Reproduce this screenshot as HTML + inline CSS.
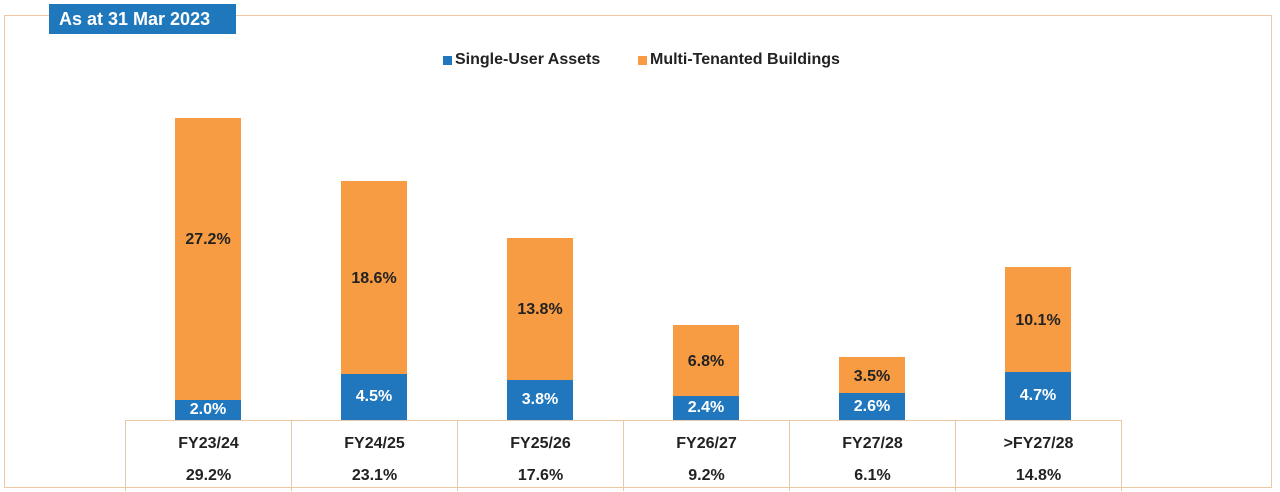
<!DOCTYPE html>
<html><head><style>
body{margin:0;width:1280px;height:492px;background:#fff;position:relative;overflow:hidden;font-family:"Liberation Sans",Arial,sans-serif}
.frame{position:absolute;left:4px;top:15px;width:1268px;height:473px;border:1.5px solid #f0c9a4;box-sizing:border-box}
.title{position:absolute;left:49px;top:4px;width:187px;height:30px;background:#1f77bc;color:#fff;font-weight:bold;font-size:18px;line-height:30px;padding-left:10px;box-sizing:border-box}
.leg{position:absolute;top:51px;font-weight:bold;font-size:16px;color:#222}
.sq{position:absolute;width:9px;height:9px;top:56px}
.bar{position:absolute;width:66px}
.o{background:#f89c43}.b{background:#2177bd}
.lab{position:absolute;width:66px;text-align:center;font-weight:bold;font-size:16px}
.tbl{position:absolute;top:420px;height:70px;border-left:1px solid #e9c8a8;border-top:1px solid #e9c8a8;width:165px;text-align:center;font-weight:bold;font-size:16px;color:#222}
.tbl div{position:absolute;width:100%}
</style></head><body>
<div class="frame"></div>
<div class="title">As at 31 Mar 2023</div>
<div class="sq b" style="left:443px"></div><div class="leg" style="left:455px">Single-User Assets</div>
<div class="sq o" style="left:638px"></div><div class="leg" style="left:650px">Multi-Tenanted Buildings</div>
<div id="c"></div>
<script>
var d=[["FY23/24","29.2%",118,400,"27.2%","2.0%",240],["FY24/25","23.1%",181,374,"18.6%","4.5%",279],["FY25/26","17.6%",238,380,"13.8%","3.8%",310],["FY26/27","9.2%",325,396,"6.8%","2.4%",362],["FY27/28","6.1%",357,393,"3.5%","2.6%",377],[">FY27/28","14.8%",267,372,"10.1%","4.7%",321]];
var h="";
d.forEach(function(r,i){var cx=125+166*i,bx=cx+50;
h+='<div class="bar o" style="left:'+bx+'px;top:'+r[2]+'px;height:'+(r[3]-r[2])+'px"></div>';
h+='<div class="bar b" style="left:'+bx+'px;top:'+r[3]+'px;height:'+(420-r[3])+'px"></div>';
h+='<div class="lab" style="left:'+bx+'px;top:'+(r[6]-9)+'px;color:#222">'+r[4]+'</div>';
h+='<div class="lab" style="left:'+bx+'px;top:'+((r[3]+420)/2-9)+'px;color:#fff">'+r[5]+'</div>';
h+='<div class="tbl" style="left:'+cx+'px'+(i==5?';border-right:1px solid #e9c8a8':'')+'"><div style="top:14px">'+r[0]+'</div><div style="top:46px">'+r[1]+'</div></div>';});
document.getElementById("c").innerHTML=h;
</script>
</body></html>
